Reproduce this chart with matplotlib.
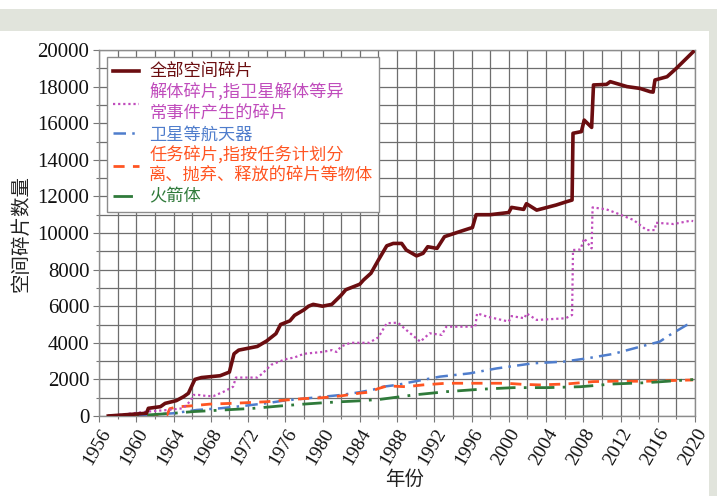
import matplotlib
matplotlib.use("Agg")
import matplotlib.pyplot as plt
from matplotlib.patches import Rectangle
from matplotlib.ticker import MultipleLocator

# ---- data: catalogued space debris counts by year ----
total_years = [1957.0, 1961.1, 1961.3, 1962.6, 1963.1, 1964.3, 1965.1, 1965.6, 1966.1, 1966.3,
               1967.0, 1969.0, 1970.0, 1970.5, 1971.0, 1972.0, 1973.0, 1974.0, 1975.0, 1975.5,
               1976.5, 1977.0, 1978.0, 1978.5, 1979.0, 1980.0, 1981.0, 1982.0, 1982.5, 1983.0,
               1984.0, 1984.4, 1985.2, 1986.0, 1986.9, 1987.6, 1988.5, 1989.0, 1990.1, 1990.8,
               1991.3, 1992.3, 1993.1, 1995.0, 1996.1, 1996.5, 1998.0, 2000.0, 2000.3, 2001.6,
               2001.9, 2003.0, 2005.1, 2006.2, 2006.8, 2006.9, 2007.8, 2008.1, 2008.9, 2009.1,
               2010.5, 2010.9, 2012.7, 2014.1, 2015.2, 2015.5, 2015.7, 2017.0, 2018.0, 2019.1,
               2019.8]
total_counts = [0, 150, 420, 510, 690, 840, 1060, 1240, 1790, 2000,
                2100, 2200, 2400, 3400, 3600, 3700, 3800, 4100, 4500, 5000,
                5200, 5500, 5800, 6000, 6100, 6000, 6100, 6600, 6900, 7000,
                7200, 7430, 7800, 8520, 9300, 9430, 9430, 9070, 8750, 8890,
                9250, 9160, 9800, 10120, 10300, 11000, 11000, 11120, 11400, 11290,
                11600, 11250, 11530, 11710, 11800, 15450, 15540, 16170, 15770, 18090,
                18120, 18270, 18000, 17900, 17720, 17700, 18360, 18540, 19000, 19550,
                19900]

breakup_years = [1957.0, 1961.2, 1963.4, 1965.0, 1965.4, 1965.9, 1966.1, 1966.7, 1967.6, 1968.3,
                 1969.4, 1970.4, 1970.7, 1973.0, 1973.5, 1974.5, 1975.5, 1976.0, 1977.0, 1978.0,
                 1980.0, 1981.0, 1981.5, 1982.0, 1983.0, 1985.0, 1986.0, 1986.9, 1988.1, 1989.0,
                 1990.5, 1991.5, 1992.8, 1993.3, 1996.4, 1996.6, 1997.7, 2000.0, 2000.3, 2001.7,
                 2001.9, 2003.0, 2006.1, 2006.8, 2006.9, 2007.7, 2008.1, 2008.9, 2009.0, 2010.5,
                 2011.6, 2013.4, 2014.8, 2015.7, 2015.8, 2017.7, 2019.5, 2019.8]
breakup_counts = [0, 240, 330, 420, 600, 875, 1150, 1150, 1090, 1090,
                  1330, 1600, 2100, 2100, 2300, 2800, 3000, 3100, 3200, 3400,
                  3500, 3600, 3500, 3800, 4000, 4000, 4300, 5070, 5100, 4700,
                  4060, 4520, 4430, 4880, 4880, 5610, 5430, 5160, 5460, 5340,
                  5610, 5250, 5340, 5520, 9070, 9100, 9710, 9160, 11400, 11290,
                  11080, 10710, 10160, 10160, 10560, 10490, 10670, 10650]

craft_years = [1957, 1961, 1964, 1966.5, 1969, 1971.5, 1974, 1976, 1978, 1980,
               1982, 1984, 1985.5, 1986.5, 1988, 1989.8, 1992.6, 1995.8, 1998.7, 2002.6,
               2005.9, 2008.4, 2011.2, 2014.8, 2016.2, 2017.3, 2019.1, 2019.8]
craft_counts = [0, 50, 150, 330, 420, 550, 700, 850, 950, 1050,
                1150, 1300, 1450, 1600, 1700, 1880, 2150, 2330, 2600, 2880,
                2970, 3150, 3390, 3880, 4060, 4430, 4970, 5050]

mission_years = [1957, 1963.3, 1963.6, 1964.4, 1965.8, 1967.9, 1970.7, 1974.0, 1976, 1978,
                 1980, 1982, 1984, 1985, 1986, 1987, 1988, 1989, 1990.8, 1993.3,
                 1996.9, 1999.7, 2001.5, 2003.3, 2006.2, 2009.1, 2011.2, 2014.8, 2019.8]
mission_counts = [0, 50, 400, 500, 550, 650, 700, 780, 870, 950,
                  1000, 1100, 1250, 1300, 1500, 1650, 1620, 1600, 1700, 1790,
                  1790, 1790, 1730, 1700, 1750, 1880, 1900, 1900, 1970]

rocket_years = [1957, 1961, 1964, 1966.1, 1969.4, 1972.6, 1975.5, 1978, 1980, 1982,
                1984, 1986.2, 1989.8, 1993.3, 1996.9, 2000.5, 2004.1, 2007.7, 2011.2, 2014.8,
                2019.1, 2019.8]
rocket_counts = [0, 50, 150, 240, 330, 420, 550, 650, 720, 780,
                 830, 910, 1150, 1330, 1460, 1550, 1550, 1600, 1750, 1820,
                 1970, 1990]

year_ticks = list(range(1956, 2021, 4))
count_ticks = list(range(0, 20001, 2000))

labels = ["全部空间碎片",
          "解体碎片,指卫星解体等异\n常事件产生的碎片",
          "卫星等航天器",
          "任务碎片,指按任务计划分\n离、抛弃、释放的碎片等物体",
          "火箭体"]
colors = ["#6b0d10", "#c04cbc", "#4f7dcc", "#ff5522", "#2f7a3a"]

cjk = ["Noto Sans CJK SC", "DejaVu Sans"]
serif = ["Liberation Serif", "DejaVu Serif"]

fig = plt.figure(figsize=(7.17, 4.96), dpi=100)
fig.patch.set_facecolor("white")
band = "#e1e4dc"
fig.patches.append(Rectangle((0, 0.9375), 1, 22 / 496, transform=fig.transFigure,
                             facecolor=band, edgecolor="none", zorder=0))
fig.patches.append(Rectangle((709 / 717, 0), 1, 0.9375, transform=fig.transFigure,
                             facecolor=band, edgecolor="none", zorder=0))

ax = fig.add_axes([99 / 717, 80 / 496, 596 / 717, 366 / 496])
ax.set_xlim(1956, 2020)
ax.set_ylim(0, 20000)

ax.plot(total_years, total_counts, color=colors[0], lw=2.6, label=labels[0], zorder=6)
ax.plot(breakup_years, breakup_counts, color=colors[1], lw=1.6, ls=(0, (1, 1.3)),
        label=labels[1], zorder=5)
ax.plot(craft_years, craft_counts, color=colors[2], lw=1.8, ls=(0, (5, 2.5, 1, 2.5)),
        label=labels[2], zorder=4)
ax.plot(mission_years, mission_counts, color=colors[3], lw=2.0, ls=(0, (4, 3)),
        label=labels[3], zorder=4)
ax.plot(rocket_years, rocket_counts, color=colors[4], lw=2.0, ls=(0, (7, 3, 1, 3)),
        label=labels[4], zorder=4)

# grid and ticks
ax.set_xticks(year_ticks)
ax.set_xticklabels([str(y) for y in year_ticks], rotation=60, ha="right",
                   rotation_mode="anchor", fontfamily=serif, fontsize=14, color="#111111")
ax.set_yticks(count_ticks)
ax.set_yticklabels([str(v) for v in count_ticks], fontfamily=serif, fontsize=15,
                   color="#111111")
ax.xaxis.set_minor_locator(MultipleLocator(2))
ax.yaxis.set_minor_locator(MultipleLocator(1000))
ax.grid(which="both", color="#6e6e6e", lw=0.9)
ax.set_axisbelow(True)
ax.tick_params(which="major", direction="out", length=4, color="#777777", width=0.8)
ax.tick_params(which="minor", direction="out", length=2.5, color="#777777", width=0.8)
ax.tick_params(axis="x", pad=3)
ax.tick_params(axis="y", pad=3)
for s in ax.spines.values():
    s.set_color("#8c8c8c")
    s.set_linewidth(1.0)

ax.set_ylabel("空间碎片数量", fontfamily=cjk, fontsize=14, color="#222222", labelpad=4)
fig.text(405 / 717, 1 - 479 / 496, "年份", fontfamily=cjk, fontsize=14, color="#222222",
         ha="center", va="center")

leg = ax.legend(loc="upper left", bbox_to_anchor=(0.0134, 0.981), borderaxespad=0,
                prop={"family": cjk, "size": 12.4}, frameon=True, fancybox=False,
                edgecolor="#8c8c8c", framealpha=1, handlelength=1.5, handletextpad=0.6,
                labelspacing=0.16, borderpad=0.35)
leg.get_frame().set_linewidth(1.0)
leg.set_zorder(10)
for txt, c in zip(leg.get_texts(), colors):
    txt.set_color(c)
    txt.set_linespacing(1.18)

fig.savefig("out.png", dpi=100)
